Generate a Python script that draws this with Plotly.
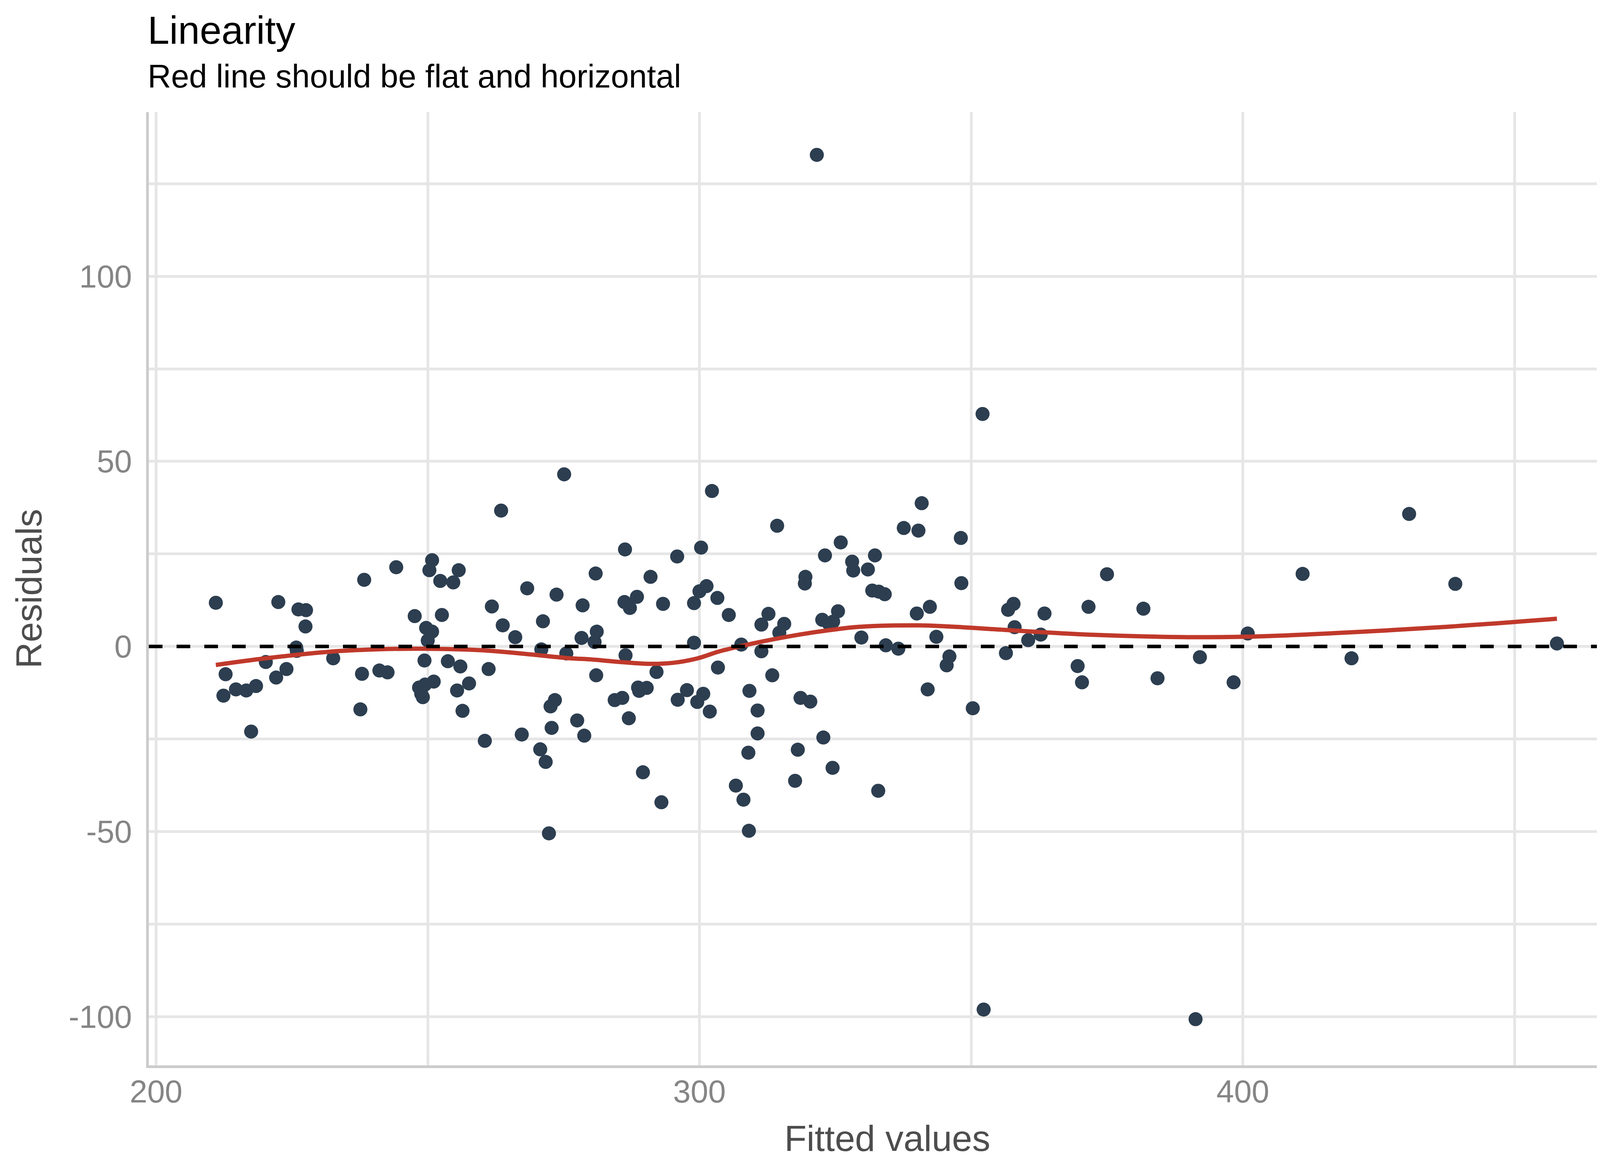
import plotly.graph_objects as go

# residuals vs fitted values
fitted = [
    211.0, 212.8, 212.4, 214.7, 216.6, 218.4, 217.5, 220.2, 222.1, 222.5,
    224.0, 226.2, 227.6, 227.5, 225.8, 225.9, 232.6, 238.3, 237.9, 237.6,
    241.1, 242.6, 244.2, 247.6, 249.4, 249.7, 250.8, 250.3, 250.8, 250.0,
    248.4, 249.5, 248.8, 249.1, 251.1, 252.3, 252.6, 254.7, 255.7, 253.7,
    256.0, 255.4, 257.6, 256.4, 260.5, 261.2, 261.8, 263.5, 263.8, 266.1,
    267.3, 268.3, 271.2, 270.9, 270.7, 271.7, 272.3, 273.4, 272.6, 272.8,
    273.7, 275.1, 275.5, 277.5, 278.8, 278.5, 278.3, 280.9, 281.1, 280.7,
    281.0, 284.4, 285.8, 286.3, 286.2, 287.2, 288.5, 286.4, 287.0, 289.6,
    293.0, 288.7, 288.9, 290.3, 291.0, 293.3, 292.1, 295.9, 296.0, 297.7,
    299.6, 300.7, 301.9, 299.0, 300.0, 301.3, 300.3, 299.0, 302.3, 303.3,
    303.4, 305.4, 306.7, 308.1, 309.1, 309.0, 310.7, 310.7, 309.2, 307.7,
    311.4, 311.4, 312.7, 313.4, 314.7, 315.6, 314.3, 319.5, 319.4, 318.6,
    320.4, 318.1, 317.6, 322.8, 324.5, 323.1, 322.6, 323.8, 324.6, 325.5,
    326.0, 328.1, 328.3, 329.8, 331.0, 332.3, 331.8, 333.0, 334.1, 332.9,
    334.3, 336.6, 337.6, 340.9, 340.3, 340.0, 342.4, 342.0, 343.6, 346.0,
    345.5, 348.1, 348.2, 350.3, 352.1, 356.4, 356.8, 357.8, 358.0, 360.5,
    362.8, 363.5, 369.6, 370.4, 371.6, 375.0, 381.7, 384.3, 392.1, 398.3,
    400.9, 411.0, 420.0, 430.6, 439.1, 457.8, 321.6, 352.3, 391.3,
]
residuals = [
    11.8, -7.5, -13.3, -11.6, -11.9, -10.7, -23.0, -4.2, -8.4, 12.0,
    -6.1, 10.0, 9.8, 5.4, -0.3, -1.2, -3.2, 18.0, -7.4, -17.0,
    -6.5, -7.0, 21.4, 8.2, -3.8, 5.0, 23.3, 20.6, 4.0, 1.6,
    -11.1, -10.3, -12.8, -13.7, -9.5, 17.7, 8.5, 17.3, 20.6, -4.0,
    -5.4, -11.9, -10.0, -17.4, -25.5, -6.1, 10.8, 36.7, 5.7, 2.5,
    -23.8, 15.7, 6.8, -0.8, -27.8, -31.2, -50.5, -14.5, -16.2, -22.0,
    14.0, 46.5, -1.9, -20.0, -24.1, 11.1, 2.3, 19.7, 4.0, 1.2,
    -7.8, -14.5, -13.9, 26.2, 12.0, 10.4, 13.4, -2.4, -19.4, -34.0,
    -42.1, -11.1, -12.0, -11.2, 18.8, 11.5, -6.9, 24.3, -14.4, -11.8,
    -15.0, -12.8, -17.6, 11.7, 14.9, 16.3, 26.7, 1.0, 42.0, 13.1,
    -5.7, 8.5, -37.6, -41.4, -49.8, -28.7, -23.5, -17.3, -12.0, 0.5,
    -1.3, 5.9, 8.8, -7.8, 3.7, 6.1, 32.6, 18.8, 17.0, -13.9,
    -14.9, -27.9, -36.3, -24.6, -32.8, 24.6, 7.2, 6.2, 6.7, 9.5,
    28.1, 22.9, 20.5, 2.4, 20.8, 24.6, 15.1, 14.8, 14.1, -39.0,
    0.3, -0.6, 32.0, 38.7, 31.3, 8.9, 10.7, -11.6, 2.6, -2.7,
    -5.1, 29.3, 17.1, -16.7, 62.8, -1.8, 9.9, 11.5, 5.2, 1.7,
    3.2, 8.9, -5.3, -9.7, 10.7, 19.5, 10.2, -8.6, -2.9, -9.7,
    3.5, 19.6, -3.2, 35.8, 16.9, 0.8, 132.8, -98.1, -100.7,
]

# loess smooth (red line)
smooth_x = [211.0, 220.2, 232.2, 240.4, 248.7, 259.7, 267.9, 276.2, 280.0, 285.4,
            290.9, 295.3, 299.7, 303.5, 307.4, 311.8, 318.4, 323.9, 329.4, 340.4,
            345.8, 356.9, 362.4, 371.6, 382.5, 393.5, 404.5, 421.0, 437.5, 457.8]
smooth_y = [-5.0, -3.2, -1.4, -0.8, -0.6, -1.0, -2.0, -3.2, -3.5, -4.2,
            -4.7, -4.4, -3.2, -1.4, 0.0, 1.4, 3.2, 4.4, 5.3, 5.7,
            5.4, 4.4, 3.9, 3.2, 2.7, 2.5, 2.8, 3.9, 5.3, 7.5]

x_ticks = [200, 250, 300, 350, 400, 450]
x_labels = ["200", "", "300", "", "400", ""]
y_ticks = [-100, -75, -50, -25, 0, 25, 50, 75, 100, 125]
y_labels = ["-100", "", "-50", "", "0", "", "50", "", "100", ""]

FONT = "Liberation Sans, Arial, Helvetica, sans-serif"
GRID = "#E6E6E6"

fig = go.Figure()

fig.add_trace(go.Scatter(
    x=fitted, y=residuals, mode="markers",
    marker=dict(color="#2C3E50", size=36, line=dict(width=0)),
    hoverinfo="x+y", showlegend=False,
))

fig.add_trace(go.Scatter(
    x=smooth_x, y=smooth_y, mode="lines", line_shape="spline",
    line=dict(color="#C0392B", width=11),
    hoverinfo="skip", showlegend=False,
))

fig.add_hline(y=0, line=dict(color="black", width=9, dash="35px,36px"))

fig.update_layout(
    width=4200, height=3000,
    margin=dict(l=373, r=47, t=279, b=281),
    paper_bgcolor="white", plot_bgcolor="white",
    font=dict(family=FONT),
    xaxis=dict(
        range=[198.67, 470.4], tickvals=x_ticks, ticktext=x_labels,
        showgrid=True, gridcolor=GRID, gridwidth=7, zeroline=False,
        showline=True, linecolor="#CCCCCC", linewidth=7,
        ticks="", ticklabelstandoff=-9,
        tickfont=dict(size=81, color="#858585", family=FONT),
    ),
    yaxis=dict(
        range=[-113.17, 144.35], tickvals=y_ticks, ticktext=y_labels,
        showgrid=True, gridcolor=GRID, gridwidth=7, zeroline=False,
        showline=True, linecolor="#CCCCCC", linewidth=7,
        ticks="", ticklabelstandoff=20,
        tickfont=dict(size=81, color="#858585", family=FONT),
    ),
    annotations=[
        dict(text="Linearity", xref="paper", yref="paper", x=-0.0013, y=1.0859,
             xanchor="left", yanchor="middle", showarrow=False,
             font=dict(size=100, color="black", family=FONT)),
        dict(text="Red line should be flat and horizontal", xref="paper", yref="paper",
             x=-0.0013, y=1.0377, xanchor="left", yanchor="middle", showarrow=False,
             font=dict(size=83, color="black", family=FONT)),
        dict(text="Fitted values", xref="paper", yref="paper", x=0.5, y=-0.0766,
             xanchor="center", yanchor="middle", showarrow=False,
             font=dict(size=93, color="#4D4D4D", family=FONT)),
        dict(text="Residuals", xref="paper", yref="paper", x=-0.0812, y=0.5,
             xanchor="center", yanchor="middle", showarrow=False, textangle=-90,
             font=dict(size=93, color="#4D4D4D", family=FONT)),
    ],
)

fig.write_html("out.html")
